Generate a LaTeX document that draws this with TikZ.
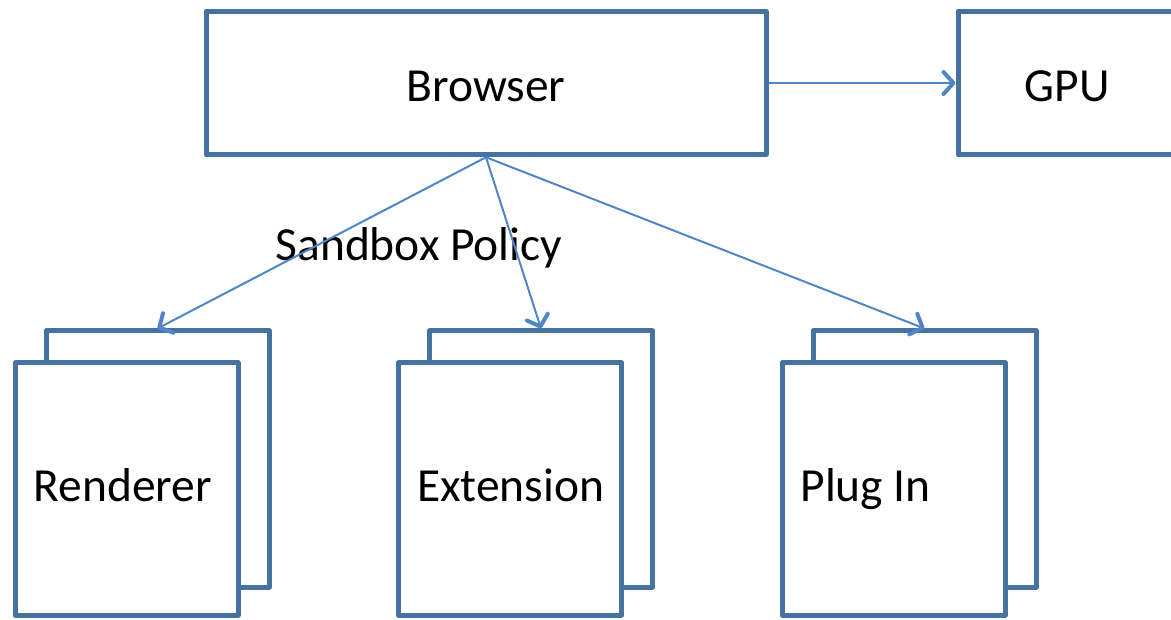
\documentclass[tikz,border=0pt]{standalone}
\usepackage{fontspec}
\setmainfont{Carlito}
\usetikzlibrary{arrows.meta,positioning,calc}
\definecolor{boxblue}{RGB}{69,114,160}
\definecolor{linkblue}{RGB}{80,134,200}

\tikzset{
	procbox/.style={draw=boxblue, line width=5pt, line join=round, fill=white, inner sep=0pt},
	topbox/.style={procbox, minimum height=143.5pt, text height=38pt, text depth=0pt},
	backbox/.style={procbox, minimum width=223pt, minimum height=256pt},
	frontbox/.style={procbox, text width=186pt, inner xsep=18.5pt, align=flush left, minimum height=252pt, text height=31pt, text depth=6pt},
	link/.style={draw=linkblue, line width=2pt, -{Straight Barb[length=10pt,width=22pt,line width=4pt,round]}}
}

\begin{document}
\begin{tikzpicture}[x=1pt, y=-1pt, font=\fontsize{47.5}{57}\selectfont]
			%%%%% START %%%%%
			\useasboundingbox (0, 0) rectangle (1171, 620);

			% top row
			\node[topbox, minimum width=560pt] (browser) at (486, 83) {Browser};
			\node[topbox, minimum width=218pt] (gpu) at (1067, 83) {GPU};

			% sandboxed processes, each with a second sheet behind it
			\node[backbox] (rendback) at (157.5, 459) {};
			\node[frontbox] (renderer) at (126.5, 489) {Renderer};

			\node[backbox] (extback) at (541, 459) {};
			\node[frontbox] (extension) at (510, 489) {Extension};

			\node[backbox] (plugback) at (924.5, 459) {};
			\node[frontbox] (plugin) at (893.5, 489) {Plug In};

			\node (policy) at (419, 248) {Sandbox Policy};

			% links
			\draw[link] (browser.east) -- (gpu.west);
			\draw[link] (browser.south) -- (rendback.north);
			\draw[link] (browser.south) -- (extback.north);
			\draw[link] (browser.south) -- (plugback.north);
			%%%%% END %%%%%
\end{tikzpicture}
\end{document}
